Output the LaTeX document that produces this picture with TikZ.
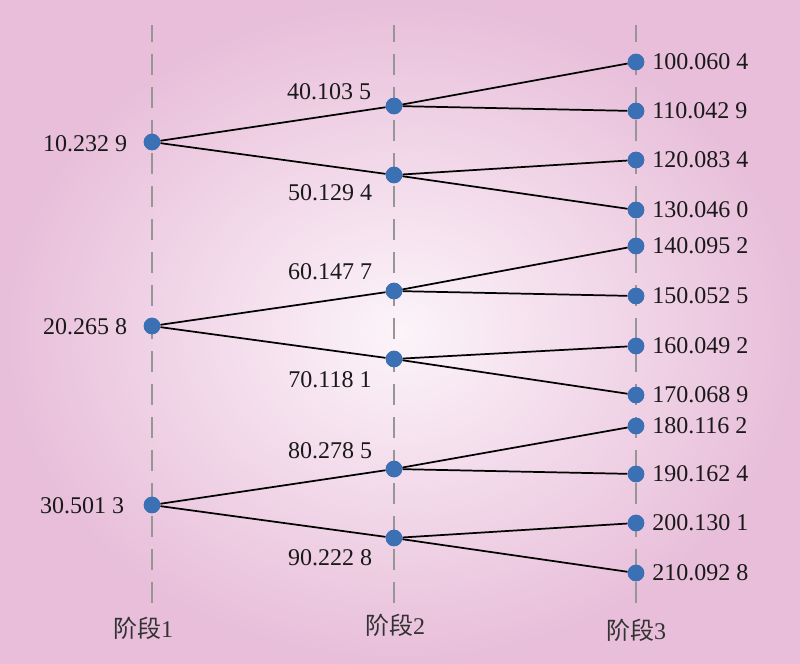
\documentclass[tikz,border=0pt]{standalone}
\usepackage{fontspec}
\setmainfont{Liberation Serif}
\newfontfamily\cjkfont{Noto Sans CJK SC}
\definecolor{bgpink}{RGB}{232,190,218}
\definecolor{bgcenter}{RGB}{252,244,249}
\definecolor{dotblue}{RGB}{60,112,180}
\definecolor{dashgray}{RGB}{150,150,150}
\begin{document}
\begin{tikzpicture}[x=0.75pt,y=-0.75pt,
  stageline/.style={draw=dashgray, line width=1.1pt, dash pattern=on 15.75pt off 9pt, dash phase=3pt},
  dot/.style={circle, fill=dotblue, inner sep=0pt, minimum size=12.4pt},
  edgeline/.style={draw=black, line width=1.3pt},
  lbl/.style={font=\fontsize{18}{20}\selectfont, inner sep=0pt, text=black!90},
  stg/.style={font=\fontsize{18}{20}\selectfont, inner sep=0pt, text=black!80}]
\fill[inner color=bgcenter, outer color=bgpink] (0,0) rectangle (800,664);
\useasboundingbox (0,0) rectangle (800,664);
% stage lines
\foreach \n/\x in {1/152,2/394,3/636}{
  \coordinate (t\n) at (\x,25);
  \coordinate (b\n) at (\x,605);
  \draw[stageline] (t\n) -- (b\n);
}
% nodes
\node[dot] (a1) at (152,142) {};
\node[dot] (a2) at (152,326) {};
\node[dot] (a3) at (152,505) {};
\node[dot] (m1) at (394,106) {};
\node[dot] (m2) at (394,175) {};
\node[dot] (m3) at (394,291) {};
\node[dot] (m4) at (394,359) {};
\node[dot] (m5) at (394,469) {};
\node[dot] (m6) at (394,538) {};
\foreach \i/\y in {1/62,2/111,3/160,4/210,5/246,6/296,7/346,8/395,9/426,10/474,11/523,12/573}{
  \node[dot] (e\i) at (636,\y) {};
}
% edges
\draw[edgeline] (a1) -- (m1); \draw[edgeline] (a1) -- (m2);
\draw[edgeline] (a2) -- (m3); \draw[edgeline] (a2) -- (m4);
\draw[edgeline] (a3) -- (m5); \draw[edgeline] (a3) -- (m6);
\draw[edgeline] (m1) -- (e1); \draw[edgeline] (m1) -- (e2);
\draw[edgeline] (m2) -- (e3); \draw[edgeline] (m2) -- (e4);
\draw[edgeline] (m3) -- (e5); \draw[edgeline] (m3) -- (e6);
\draw[edgeline] (m4) -- (e7); \draw[edgeline] (m4) -- (e8);
\draw[edgeline] (m5) -- (e9); \draw[edgeline] (m5) -- (e10);
\draw[edgeline] (m6) -- (e11); \draw[edgeline] (m6) -- (e12);
% redraw dots on top
\foreach \nm in {a1,a2,a3,m1,m2,m3,m4,m5,m6,e1,e2,e3,e4,e5,e6,e7,e8,e9,e10,e11,e12}{
  \fill[dotblue] (\nm) circle[radius=6.2pt];
}
% stage-1 labels
\node[lbl] (la1) at (85,144) {10.232 9};
\node[lbl] (la2) at (85,327) {20.265 8};
\node[lbl] (la3) at (82,506) {30.501 3};
% stage-2 labels
\node[lbl] (lm1) at (329,92) {40.103 5};
\node[lbl] (lm2) at (330,193) {50.129 4};
\node[lbl] (lm3) at (330,272) {60.147 7};
\node[lbl] (lm4) at (330,380) {70.118 1};
\node[lbl] (lm5) at (330,451) {80.278 5};
\node[lbl] (lm6) at (330,558) {90.222 8};
% stage-3 labels
\foreach \i/\t in {1/100.060 4,2/110.042 9,3/120.083 4,4/130.046 0,5/140.095 2,6/150.052 5,7/160.049 2,8/170.068 9,9/180.116 2,10/190.162 4,11/200.130 1,12/210.092 8}{
  \node[lbl, anchor=west] (le\i) at ([xshift=12pt]e\i.center) {\t};
}
% stage titles
\node[stg] (s1) at (143,628) {{\cjkfont 阶段}1};
\node[stg] (s2) at (395,625) {{\cjkfont 阶段}2};
\node[stg] (s3) at (636,630) {{\cjkfont 阶段}3};
\end{tikzpicture}
\end{document}
